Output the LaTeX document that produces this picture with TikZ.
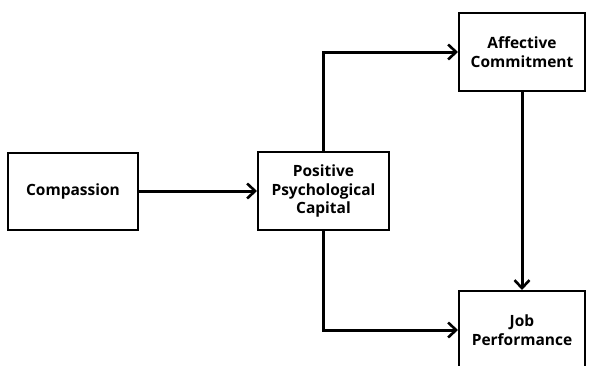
\documentclass[tikz,border=0pt]{standalone}
\usepackage{fontspec}
\setmainfont{Open Sans}
\usetikzlibrary{arrows.meta,positioning}

\begin{document}
\begin{tikzpicture}[
    x=1pt,y=-1pt,
    box/.style={draw=black,line width=2pt,fill=white,align=center,font=\bfseries\fontsize{15.5}{18.5}\selectfont,inner sep=0pt},
    arr/.style={-{Straight Barb[length=8pt,width=15pt,line width=2.6pt]},line width=3pt,black}
  ]
    \useasboundingbox (0,0) rectangle (590,365);
    \clip (0,0) rectangle (590,365);
    \node[box,minimum width=130,minimum height=77] (comp) at (73,191) {Compassion};
    \node[box,minimum width=131,minimum height=78] (ppc) at (323.5,191) {Positive\\Psychological\\Capital};
    \node[box,minimum width=126,minimum height=78] (ac) at (522,52) {Affective\\Commitment};
    \node[box,minimum width=126,minimum height=78] (jp) at (522,330) {Job\\Performance};
    \draw[arr] (comp) -- (ppc);
    \draw[arr] (ppc.north) |- (ac.west);
    \draw[arr] (ppc.south) |- (jp.west);
    \draw[arr] (ac) -- (jp);
\end{tikzpicture}
\end{document}
